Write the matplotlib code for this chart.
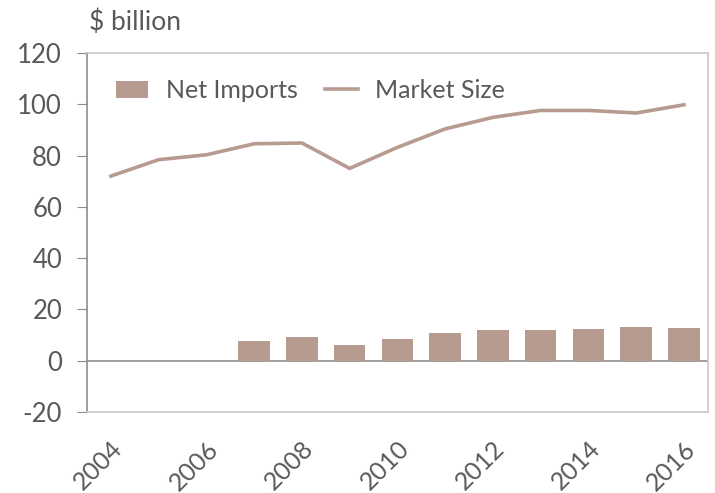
import numpy as np
import matplotlib
matplotlib.use('Agg')
import matplotlib.pyplot as plt

plt.rcParams['font.family'] = ['Lato', 'DejaVu Sans']
plt.rcParams['axes.unicode_minus'] = False

years = [2004, 2005, 2006, 2007, 2008, 2009, 2010,
         2011, 2012, 2013, 2014, 2015, 2016]
market_size = [72.0, 78.4, 80.3, 84.6, 84.9, 75.0, 83.2,
               90.4, 94.9, 97.6, 97.6, 96.6, 99.8]
net_imports = [np.nan, np.nan, np.nan, 7.8, 9.2, 6.1, 8.3,
               11.0, 12.1, 12.1, 12.5, 13.0, 12.7]

col = '#B89B90'
txt = '#595959'

fig = plt.figure(figsize=(7.15, 4.93), dpi=100)
ax = fig.add_axes([0.1217, 0.1643, 0.8683, 0.7282])

x = np.arange(len(years))
bars = ax.bar(x, net_imports, width=0.66, color=col, label='Net Imports', zorder=2)
line, = ax.plot(x, market_size, color=col, lw=2.6, label='Market Size', zorder=3)
ax.axhline(0, color='#8c8c8c', lw=1.2, zorder=1)

ax.set_xlim(-0.5, len(years) - 0.5)
ax.set_ylim(-20, 120)
ax.set_yticks(range(-20, 121, 20))
ax.tick_params(axis='y', direction='out', length=7, color='#8c8c8c',
               labelsize=18.5, labelcolor=txt, pad=11)
ax.set_xticks(x[::2])
ax.set_xticklabels([str(y) for y in years[::2]], rotation=45,
                   ha='right', va='top', rotation_mode='anchor')
ax.tick_params(axis='x', length=0, labelsize=18, labelcolor=txt, pad=18)

for s in ['top', 'right', 'bottom']:
    ax.spines[s].set_color('#c8c8c8')
    ax.spines[s].set_linewidth(1.2)
ax.spines['left'].set_color('#8c8c8c')
ax.spines['left'].set_linewidth(1.2)

fig.text(0.125, 0.955, '$ billion', fontsize=19, color=txt, ha='left', va='center')

ax.legend([bars, line], ['Net Imports', 'Market Size'], loc='upper left', ncol=2,
          frameon=False, fontsize=18, labelcolor=txt, bbox_to_anchor=(0.01, 0.99),
          handlelength=1.3, handletextpad=0.7, columnspacing=1.1)

fig.savefig('out.png', dpi=100, facecolor='white')
